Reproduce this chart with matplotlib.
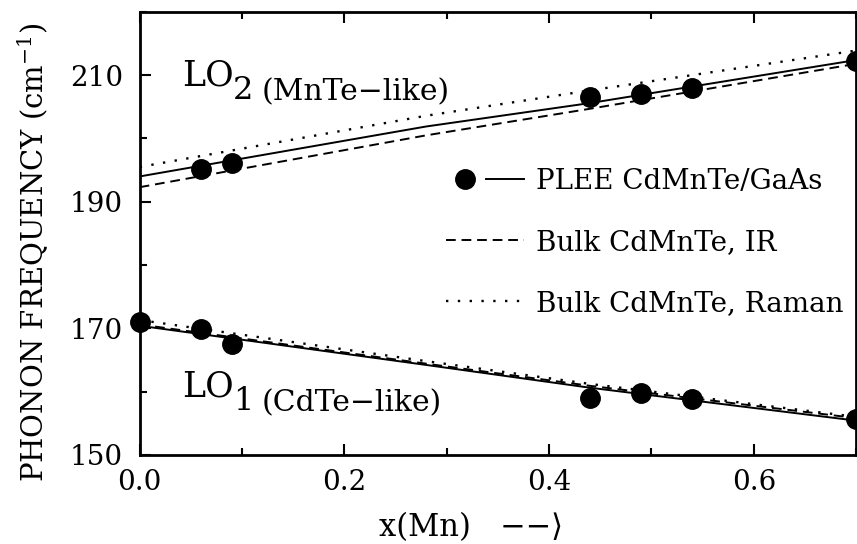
import numpy as np
import matplotlib
matplotlib.use("Agg")
import matplotlib.pyplot as plt
from matplotlib.lines import Line2D
from matplotlib.legend_handler import HandlerTuple

plt.rcParams['font.family'] = ['DejaVu Serif']
plt.rcParams['mathtext.fontset'] = 'dejavuserif'

# measured points (PLEE CdMnTe/GaAs)
x_pts = [0.06, 0.09, 0.44, 0.49, 0.54, 0.70]
lo2_pts = [195.2, 196.2, 206.6, 207.0, 208.0, 212.2]
x_lo1 = [0.0, 0.06, 0.09, 0.44, 0.49, 0.54, 0.70]
lo1_pts = [171.0, 169.9, 167.5, 159.0, 159.8, 158.8, 155.6]

# fitted / bulk curves
x_fit = [0.0, 0.28, 0.44, 0.70]
lo2_plee = [194.0, 201.9, 205.6, 212.4]
lo2_ir = [192.3, 200.5, 204.7, 211.8]
lo2_raman = [195.5, 203.6, 207.6, 213.9]
lo1_plee = [170.4, 164.2, 160.6, 155.4]
lo1_ir = [170.6, 164.4, 160.9, 155.8]
lo1_raman = [171.3, 164.8, 161.2, 156.0]

labels = ['PLEE CdMnTe/GaAs', 'Bulk CdMnTe, IR', 'Bulk CdMnTe, Raman']

fig = plt.figure(figsize=(8.57, 5.44), dpi=100)
ax = fig.add_axes([0.163, 0.164, 0.836, 0.814])

dash = (0, (5, 3))
dots = (0, (1, 4))
ax.plot(x_fit, lo2_plee, color='black', lw=1.4)
ax.plot(x_fit, lo2_ir, color='black', lw=1.4, ls=dash)
ax.plot(x_fit, lo2_raman, color='black', lw=1.7, ls=dots)
ax.plot(x_fit, lo1_plee, color='black', lw=1.4)
ax.plot(x_fit, lo1_ir, color='black', lw=1.4, ls=dash)
ax.plot(x_fit, lo1_raman, color='black', lw=1.7, ls=dots)
ax.plot(x_pts, lo2_pts, 'o', color='black', ms=14)
ax.plot(x_lo1, lo1_pts, 'o', color='black', ms=14, clip_on=False)

ax.set_xlim(0, 0.7)
ax.set_ylim(150, 220)
ax.set_xticks([0.0, 0.2, 0.4, 0.6])
ax.set_xticks(np.arange(0, 0.71, 0.1), minor=True)
ax.set_yticks([150, 170, 190, 210])
ax.set_yticks([160, 180, 200, 220], minor=True)
ax.tick_params(which='both', direction='in', top=True, right=False, width=1.5)
ax.tick_params(which='major', length=8, labelsize=20)
ax.tick_params(which='minor', length=5)
ax.tick_params(axis='y', pad=12)
ax.tick_params(axis='x', pad=10)
for s in ax.spines.values():
    s.set_linewidth(2)

# mode labels: "LO" + subscript + description
for y0, sub, desc in [(208.4, '2', '(MnTe\u2212like)'), (159.2, '1', '(CdTe\u2212like)')]:
    t = ax.text(0.041, y0, 'LO', fontsize=25, va='baseline')
    s = ax.annotate(sub, xy=(1, 0), xycoords=t, xytext=(0, -10),
                    textcoords='offset points', fontsize=23, va='bottom')
    ax.annotate(desc, xy=(1, 0), xycoords=s, xytext=(6, 0),
                textcoords='offset points', fontsize=21.5, va='bottom')

fig.text(0.0385, 0.537, 'PHONON FREQUENCY (cm$^{-1}$)', fontsize=21,
         rotation=90, ha='center', va='center')
fig.text(0.55, 0.015, 'x(Mn)   \u2212\u2212\u27e9', fontsize=22, ha='center')

h_dot = Line2D([], [], marker='o', ls='none', color='black', ms=14)
h_line = Line2D([], [], color='black', lw=1.4)
h_ir = Line2D([], [], color='black', lw=1.4, ls=dash)
h_ram = Line2D([], [], color='black', lw=1.7, ls=dots)
ax.legend([(h_dot, h_line), h_ir, h_ram], labels,
          handler_map={tuple: HandlerTuple(ndivide=None, pad=0.1)},
          loc='upper left', bbox_to_anchor=(0.412, 0.673), frameon=False,
          fontsize=20, handlelength=2.8, labelspacing=1.22, handletextpad=0.45,
          borderaxespad=0)

fig.savefig('out.png', dpi=100)
